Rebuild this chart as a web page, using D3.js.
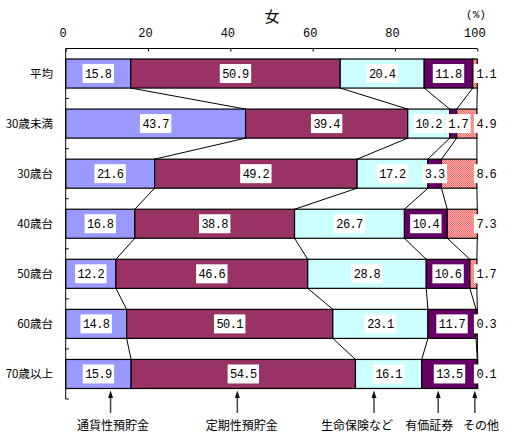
<!DOCTYPE html>
<html><head><meta charset="utf-8">
<script src="https://cdn.jsdelivr.net/npm/d3@7"></script>
<style>body{margin:0;background:#fff}</style>
</head><body><svg id="c" width="515" height="447"></svg>
<script>
const categories = ["平均","30歳未満","30歳台","40歳台","50歳台","60歳台","70歳以上"];
const seriesNames = ["通貨性預貯金","定期性預貯金","生命保険など","有価証券","その他"];
const s1 = [15.8,43.7,21.6,16.8,12.2,14.8,15.9];
const s2 = [50.9,39.4,49.2,38.8,46.6,50.1,54.5];
const s3 = [20.4,10.2,17.2,26.7,28.8,23.1,16.1];
const s4 = [11.8,1.7,3.3,10.4,10.6,11.7,13.5];
const s5 = [1.1,4.9,8.6,7.3,1.7,0.3,0.1];
const xTicks = [0,20,40,60,80,100];
const arrowAt = [10.9,41.7,74.9,90.5,99.4];
const labelAt = [11.5,42.8,70.8,88.3,100.9];

const series = [s1,s2,s3,s4,s5];
const colors = ["#9999FF","#993366","#CCFFFF","#660066","url(#hatch)"];
const svg = d3.select("#c");
const defs = svg.append("defs");
const pat = defs.append("pattern").attr("id","hatch").attr("patternUnits","userSpaceOnUse")
  .attr("width",2).attr("height",2);
pat.append("rect").attr("width",2).attr("height",2).attr("fill","#FFB3B3");
pat.append("rect").attr("width",1).attr("height",1).attr("fill","#FF6666");
pat.append("rect").attr("x",1).attr("y",1).attr("width",1).attr("height",1).attr("fill","#FF6666");

const x = d3.scaleLinear().domain([0,100]).range([65.7,477.3]);
const y = d3.scaleBand().domain(categories).range([48.5,399]).paddingInner(0.42).paddingOuter(0.21);
const bw = y.bandwidth();
const step = y.step();

const rows = categories.map((c,i)=>{
  let acc = 0;
  const segs = series.map((s,k)=>{ const x0=acc; acc+=s[i]; return {k,x0,x1:acc,v:s[i],c}; });
  return {c,segs};
});

// bars
const g = svg.append("g");
rows.forEach(r=>{
  g.selectAll(null).data(r.segs).enter().append("rect")
    .attr("x",d=>x(d.x0)).attr("y",y(r.c)).attr("width",d=>x(d.x1)-x(d.x0)).attr("height",bw)
    .attr("fill",d=>colors[d.k]).attr("stroke","#000").attr("stroke-width",1.2);
});

// connectors
for(let i=0;i<rows.length-1;i++){
  for(let k=0;k<5;k++){
    const a = rows[i].segs[k].x1, b = rows[i+1].segs[k].x1;
    svg.append("line").attr("x1",x(a)).attr("y1",y(rows[i].c)+bw).attr("x2",x(b)).attr("y2",y(rows[i+1].c))
      .attr("stroke","#000").attr("stroke-width",1);
  }
}

// top axis
const axT = d3.axisTop(x).tickValues(xTicks).tickSize(-3).tickPadding(0).tickFormat(d3.format("d"));
const ga = svg.append("g").attr("transform","translate(0,48.5)").call(axT);
ga.select(".domain").attr("d",`M${x(0)},0H${x(100)}`).attr("stroke","#000");
ga.selectAll(".tick line").attr("stroke","#000");
ga.selectAll(".tick text").attr("y",-12).attr("dx",-3).attr("font-family","Liberation Mono, monospace").attr("font-size",12).attr("fill","#000");

// left axis
svg.append("line").attr("x1",x(0)).attr("x2",x(0)).attr("y1",48.5).attr("y2",399).attr("stroke","#000");
const bounds = categories.map(c=>y(c)-y.paddingInner()*step/2).slice(1).concat([399]);
svg.selectAll(null).data(bounds).enter().append("line")
  .attr("x1",x(0)).attr("x2",x(0)+3).attr("y1",d=>d).attr("y2",d=>d).attr("stroke","#000");

// category labels
svg.selectAll(null).data(categories).enter().append("text")
  .attr("x",53).attr("y",d=>y(d)+bw/2).attr("dy","0.35em").attr("text-anchor","end")
  .attr("font-family","Noto Sans CJK JP").attr("font-size",11.5).attr("fill","#000").text(d=>d);

// value labels
rows.forEach(r=>{
  r.segs.forEach(d=>{
    const cy = y(r.c)+bw/2;
    let cx = d.k===4 ? x(100)+9 : (x(d.x0)+x(d.x1))/2;
    if (d.k===3 && d.v<2) cx = x(d.x1)+1.5;
    const t = svg.append("text").attr("x",cx).attr("y",cy).attr("dy","0.36em").attr("text-anchor","middle")
      .attr("font-family","Liberation Mono, monospace").attr("font-size",12).attr("letter-spacing","-0.6px")
      .attr("fill","#000").text(d3.format(".1f")(d.v));
    const w = t.node().getComputedTextLength();
    svg.insert("rect", () => t.node()).attr("x",cx-w/2-2.5).attr("y",cy-9.5).attr("width",w+5).attr("height",19).attr("fill","#fff");
  });
});

// title
svg.append("text").attr("x",272).attr("y",22).attr("text-anchor","middle").attr("font-family","Noto Sans CJK JP")
  .attr("font-size",15).attr("fill","#000").text("女");
svg.append("text").attr("x",476).attr("y",18).attr("text-anchor","middle").attr("font-family","Liberation Mono, monospace")
  .attr("font-size",11).attr("fill","#000").text("(%)");

// annotations
seriesNames.forEach((n,k)=>{
  const ax = x(arrowAt[k]);
  svg.append("line").attr("x1",ax).attr("x2",ax).attr("y1",396).attr("y2",413)
    .attr("stroke","#444").attr("stroke-width",1.5);
  svg.append("path").attr("d",`M${ax},390.5L${ax+2.5},398L${ax-2.5},398Z`).attr("fill","#111");
  svg.append("text").attr("x",x(labelAt[k])).attr("y",430).attr("text-anchor","middle")
    .attr("font-family","Noto Sans CJK JP").attr("font-size",12).attr("fill","#000").text(n);
});
</script></body></html>
